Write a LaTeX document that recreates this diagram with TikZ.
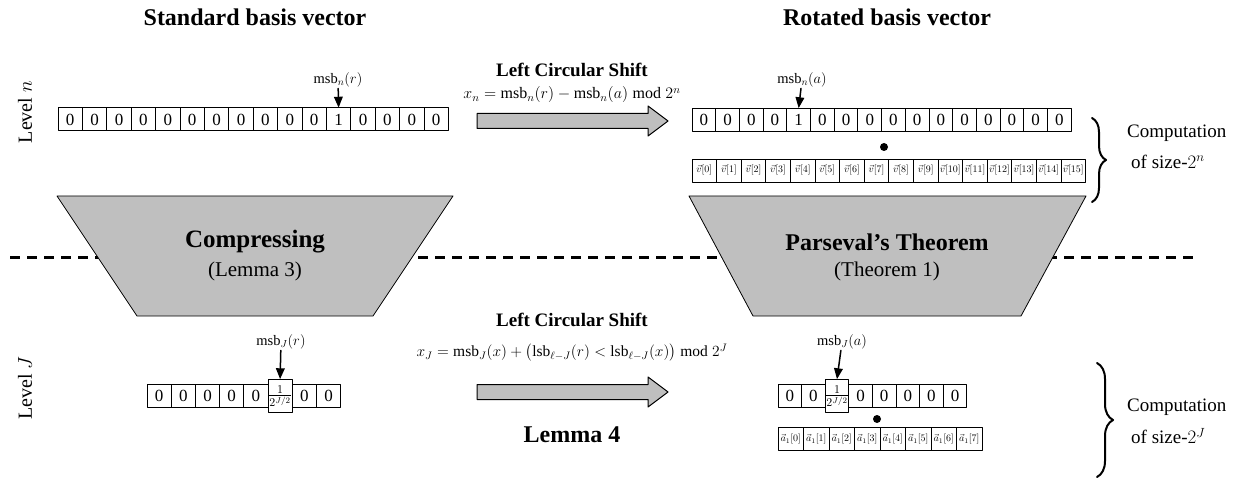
\RequirePackage{fix-cm}
\documentclass[tikz,border=0pt]{standalone}
\usepackage{amsmath}
\usepackage{fontspec}
\setmainfont{Liberation Serif}
\usetikzlibrary{arrows,decorations.pathreplacing}
\newcommand{\fsz}[1]{\fontsize{#1}{#1}\selectfont}

\begin{document}
\begin{tikzpicture}[line cap=round,line join=round,>=triangle 45,x=1pt,y=-1pt,
	cell/.style={draw,line width=1,inner xsep=0pt,inner ysep=3pt,minimum height=23,font=\fsz{17}},
	tallcell/.style={cell,inner ysep=6pt},
	idx/.style={draw,line width=0.8,inner sep=0pt,minimum height=23,font=\fsz{10}},
	msb/.style={font=\fsz{14.5},inner sep=1pt},
	ptr/.style={->,line width=1.5},
	block/.style={fill=gray!50,draw=black,line width=0.8},
	shiftarrow/.style={fill=gray!50,draw=black,line width=1},
	ttl/.style={font=\bfseries\fsz{24}},
	shifttxt/.style={font=\bfseries\fsz{19},inner sep=1pt},
	frml/.style={inner sep=1pt},
	cmp/.style={font=\fsz{19},anchor=west,inner sep=0pt}]
	\useasboundingbox (0,0) rectangle (1244,481);
	% titles and levels
	\node[ttl] (ttlstd) at (255,17) {Standard basis vector};
	\node[ttl] (ttlrot) at (887,17) {Rotated basis vector};
	\node[rotate=90,font=\fsz{20}] (lvln) at (25,112) {Level $n$};
	\node[rotate=90,font=\fsz{20}] (lvlj) at (25,388) {Level $J$};
	% separation line
	\coordinate (sepl) at (10,257);
	\coordinate (sepr) at (1195,257);
	\draw[line width=3,line cap=butt,dash pattern=on 10pt off 7pt] (sepl) -- (sepr);
	% trapezoids
	\filldraw[block] (57,196) -- (453,196) -- (373,316) -- (137,316) -- cycle;
	\filldraw[block] (689,196) -- (1086,196) -- (1021,316) -- (753,316) -- cycle;
	\node[font=\bfseries\fsz{25}] (cmpr) at (255,242) {Compressing};
	\node[font=\fsz{21}] (lem3) at (255,271) {(Lemma 3)};
	\node[font=\bfseries\fsz{24}] (pars) at (887,242) {Parseval’s Theorem};
	\node[font=\fsz{21}] (thm1) at (887,271) {(Theorem 1)};
	% shift arrows
	\foreach \yc in {121,392}
		\filldraw[shiftarrow] (477,{\yc-7.5}) -- (648,{\yc-7.5}) -- (648,{\yc-15}) -- (668,\yc) -- (648,{\yc+15}) -- (648,{\yc+7.5}) -- (477,{\yc+7.5}) -- cycle;
	\node[shifttxt] (lcsn) at (572,70) {Left Circular Shift};
	\node[frml,font=\fsz{16}] (frmn) at (572,95) {$x_n = \mathrm{msb}_n(r) - \mathrm{msb}_n(a) \bmod 2^n$};
	\node[shifttxt] (lcsj) at (572,320) {Left Circular Shift};
	\node[frml,font=\fsz{15.5}] (frmj) at (572,353) {$x_J = \mathrm{msb}_J(x) + \bigl(\mathrm{lsb}_{\ell-J}(r) < \mathrm{lsb}_{\ell-J}(x)\bigr) \bmod 2^J$};
	\node[font=\bfseries\fsz{24}] (lem4) at (572,435) {Lemma 4};
	% level n vectors
	\foreach \val [count=\i from 0] in {0,0,0,0,0,0,0,0,0,0,0,1,0,0,0,0}
		\node[cell,minimum width=24.4] (sn\i) at ({70.2+24.4*\i},119.5) {\val};
	\foreach \val [count=\i from 0] in {0,0,0,0,1,0,0,0,0,0,0,0,0,0,0,0}
		\node[cell,minimum width=23.7] (rn\i) at ({703.85+23.7*\i},120) {\val};
	\foreach \i in {0,...,15}
		\node[idx,minimum width=24.6] (vn\i) at ({704.3+24.6*\i},170.5) {$\vec{v}[\i]$};
	\node[msb] (msbnr) at (338,80) {$\mathrm{msb}_n(r)$};
	\node[msb] (msbna) at (802,80) {$\mathrm{msb}_n(a)$};
	\draw[ptr] (msbnr) -- (sn11.north);
	\draw[ptr] (msbna) -- (rn4.north);
	\node[circle,fill,inner sep=0pt,minimum size=8] (dotn) at (884,147) {};
	% level J vectors
	\foreach \val/\st [count=\i from 0] in {0/cell,0/cell,0/cell,0/cell,0/cell,{$\frac{1}{2^{J/2}}$}/tallcell,0/cell,0/cell}
		\node[\st,minimum width=24.2] (sj\i) at ({159.1+24.2*\i},396) {\val};
	\foreach \val/\st [count=\i from 0] in {0/cell,0/cell,{$\frac{1}{2^{J/2}}$}/tallcell,0/cell,0/cell,0/cell,0/cell,0/cell}
		\node[\st,minimum width=23.6] (rj\i) at ({789.8+23.6*\i},396) {\val};
	\foreach \i in {0,...,7}
		\node[idx,minimum width=25.5] (aj\i) at ({790.75+25.5*\i},439) {$\vec{a}_1[\i]$};
	\node[msb] (msbjr) at (281,342) {$\mathrm{msb}_J(r)$};
	\node[msb] (msbja) at (842,342) {$\mathrm{msb}_J(a)$};
	\draw[ptr] (msbjr) -- (sj5.north);
	\draw[ptr] (msbja) -- (rj2.north);
	\node[circle,fill,inner sep=0pt,minimum size=8] (dotj) at (877,419) {};
	% computation size
	\draw[decorate,decoration={brace,amplitude=14},line width=2] (1092,118) -- (1092,202);
	\draw[decorate,decoration={brace,amplitude=16},line width=2] (1097,363) -- (1097,477);
	\node[cmp] (cmpn) at (1127,133) {Computation};
	\node[cmp] (sizn) at (1131,162) {of size-$2^n$};
	\node[cmp] (cmpj) at (1127,407) {Computation};
	\node[cmp] (sizj) at (1131,436) {of size-$2^J$};
\end{tikzpicture}
\end{document}
